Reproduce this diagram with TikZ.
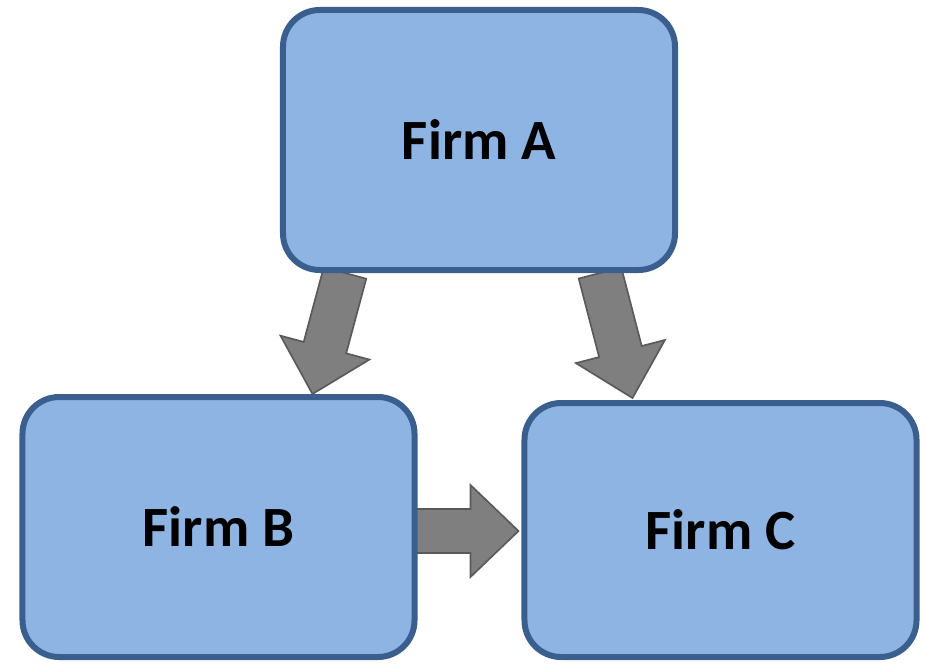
\documentclass[tikz,border=0pt]{standalone}
\usepackage{fontspec}
\setmainfont{Carlito}
\usepackage{tikz}
\usetikzlibrary{calc,backgrounds,positioning}
\usepackage{xcolor}
\definecolor{firmfill}{HTML}{8EB4E3}
\definecolor{firmedge}{HTML}{3A5F8F}
\definecolor{flowfill}{HTML}{7F7F7F}
\definecolor{flowedge}{HTML}{5A5A5A}

\begin{document}
\begin{tikzpicture}[
    x=0.03cm,
    y=-0.03cm,
    firm/.style={
        rectangle,
        rounded corners=1.1cm,
        draw=firmedge,
        fill=firmfill,
        line width=0.18cm,
        minimum width=11.76cm,
        minimum height=7.8cm,
        font=\fontsize{48.6}{58}\selectfont\bfseries
    },
    flow/.style={
        draw=flowedge,
        fill=flowfill,
        line width=0.05cm,
        line join=miter,
        to path={
            ($(\tikztostart)!0.66cm!90:(\tikztotarget)$)
            -- ($(\tikztotarget)!1.44cm!(\tikztostart)!0.66cm!-90:(\tikztostart)$)
            -- ($(\tikztotarget)!1.44cm!(\tikztostart)!1.38cm!-90:(\tikztostart)$)
            -- (\tikztotarget)
            -- ($(\tikztotarget)!1.44cm!(\tikztostart)!1.38cm!90:(\tikztostart)$)
            -- ($(\tikztotarget)!1.44cm!(\tikztostart)!0.66cm!90:(\tikztostart)$)
            -- ($(\tikztostart)!0.66cm!-90:(\tikztotarget)$)
            -- cycle
        }
    }
]
\useasboundingbox (0,0) rectangle (925,664);

\node[firm] (firmA) at (479,140) {Firm A};
\node[firm] (firmB) at (218.5,527) {Firm B};
\node[firm, minimum height=7.62cm] (firmC) at (720.5,530) {Firm C};

\coordinate (fromA1) at ($(firmA.south)+(-134,0)$);
\coordinate (toB) at ($(firmB.north)+(94,0)$);
\coordinate (fromA2) at ($(firmA.south)+(121,0)$);
\coordinate (toC1) at ($(firmC.north)+(-88,-2)$);
\coordinate (fromB) at ($(firmB.east)+(-3,4)$);
\coordinate (toC2) at ($(firmC.west)+(-3,1)$);

\begin{scope}[on background layer]
\path[flow] (fromA1) to (toB);
\path[flow] (fromA2) to (toC1);
\path[flow] (fromB) to (toC2);
\end{scope}

\end{tikzpicture}
\end{document}
